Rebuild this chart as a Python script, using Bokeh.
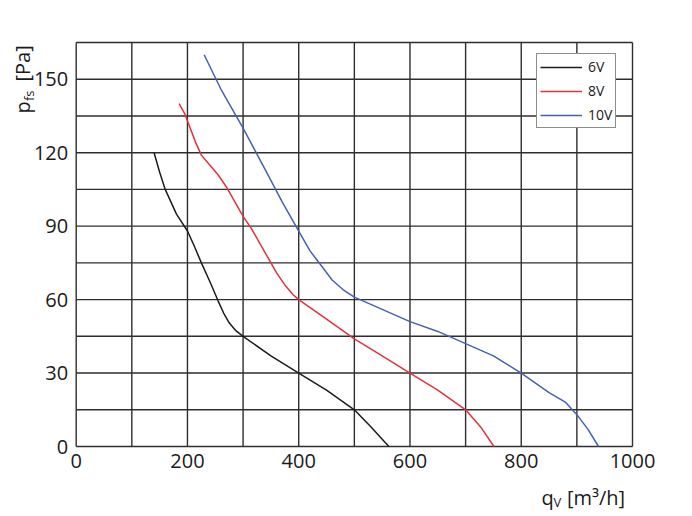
import math
from bokeh.plotting import figure
from bokeh.models import Range1d, FixedTicker, Label, Legend, LegendItem, LinearAxis
from bokeh.embed import file_html
from bokeh.resources import INLINE

FONT = "Open Sans"

# ---- data ----
q_6v = [140, 150, 160, 180, 200, 212, 225, 240, 255, 265, 275, 287, 300, 350, 400, 450, 500, 530, 562]
p_6v = [120, 112, 105, 95, 88, 82, 75, 67.5, 59.5, 54.5, 50.5, 47.3, 45, 37, 30, 23, 15, 8, 0]

q_8v = [185, 195, 205, 215, 225, 240, 255, 270, 285, 300, 315, 330, 345, 360, 375, 390, 400,
        450, 500, 550, 600, 650, 700, 727, 751]
p_8v = [140, 136, 130, 124, 119, 115, 111, 106, 100, 94, 89, 83, 77, 71, 66, 62, 60,
        52, 44, 37, 30, 23, 15, 8, 0]

q_10v = [230, 260, 300, 340, 370, 400, 420, 440, 460, 480, 500, 550, 600, 650, 700, 750, 800, 850, 880, 900, 920, 939]
p_10v = [160, 146, 130, 113, 100, 88, 80, 74, 68, 64, 61, 56, 51, 47, 42, 37, 30, 22, 18, 13, 7, 0]

series_names = ["6V", "8V", "10V"]
series_colors = ["#1c1c1c", "#e2323e", "#4562b0"]

x_ticks = [0, 200, 400, 600, 800, 1000]
y_ticks = [0, 30, 60, 90, 120, 150]
x_grid = list(range(0, 1001, 100))
y_grid = list(range(0, 166, 15))
X_MIN, X_MAX = 0, 1000
Y_MIN, Y_MAX = 0, 165

# ---- layout (pixels in the picture) ----
W, H = 676, 512
FL, FR, FT, FB = 75.7, 632.0, 42.0, 446.0   # plot box edges


def dx(px):
    return X_MIN + (px - FL) / (FR - FL) * (X_MAX - X_MIN)


def dy(py):
    return Y_MIN + (FB - py) / (FB - FT) * (Y_MAX - Y_MIN)


p = figure(width=W, height=H, output_backend="svg", toolbar_location=None,
           x_range=Range1d(dx(0), dx(W)), y_range=Range1d(dy(H), dy(0)),
           x_axis_location=None, y_axis_location=None,
           min_border=0, min_border_left=0, min_border_right=0,
           min_border_top=0, min_border_bottom=0)
p.outline_line_color = None
p.grid.visible = False

# grid / box
GRID_COLOR = "#2e2e2e"
p.segment(x0=x_grid, y0=[Y_MIN] * len(x_grid), x1=x_grid, y1=[Y_MAX] * len(x_grid),
          line_color=GRID_COLOR, line_width=1.4)
p.segment(x0=[X_MIN] * len(y_grid), y0=y_grid, x1=[X_MAX] * len(y_grid), y1=y_grid,
          line_color=GRID_COLOR, line_width=1.4)

# axes at the box edges
xax = LinearAxis(fixed_location=Y_MIN, ticker=FixedTicker(ticks=x_ticks))
yax = LinearAxis(fixed_location=X_MIN, ticker=FixedTicker(ticks=y_ticks))
for ax in (xax, yax):
    ax.axis_line_color = None
    ax.major_tick_line_color = None
    ax.minor_tick_line_color = None
    ax.major_label_text_font = FONT
    ax.major_label_text_font_size = "20px"
    ax.major_label_text_color = "#1a1a1a"
xax.major_label_standoff = 1
yax.major_label_standoff = 2
p.add_layout(xax, "below")
p.add_layout(yax, "left")

r6 = p.line(q_6v, p_6v, line_color=series_colors[0], line_width=1.5)
r8 = p.line(q_8v, p_8v, line_color=series_colors[1], line_width=1.5)
r10 = p.line(q_10v, p_10v, line_color=series_colors[2], line_width=1.5)

legend = Legend(items=[LegendItem(label=series_names[0], renderers=[r6]),
                       LegendItem(label=series_names[1], renderers=[r8]),
                       LegendItem(label=series_names[2], renderers=[r10])],
                location=(536, H - 128))
legend.border_line_color = "#1a1a1a"
legend.border_line_width = 1.2
legend.background_fill_color = "white"
legend.background_fill_alpha = 1.0
legend.padding = 3
legend.margin = 0
legend.spacing = 5
legend.glyph_width = 42
legend.glyph_height = 18
legend.label_height = 18
legend.label_standoff = 6
legend.label_text_font = FONT
legend.label_text_font_size = "14px"
legend.label_text_color = "#1a1a1a"
p.add_layout(legend)

# axis titles (with subscripts)
lab_kw = dict(text_font=FONT, text_color="#1a1a1a", text_baseline="alphabetic", text_align="left")
V = math.pi / 2
p.add_layout(Label(x=dx(21.5), y=dy(113), text="p", angle=V, text_font_size="20px", **lab_kw))
p.add_layout(Label(x=dx(28.5), y=dy(100.5), text="fs", angle=V, text_font_size="13px", **lab_kw))
p.add_layout(Label(x=dx(21.5), y=dy(81), text="[Pa]", angle=V, text_font_size="20px", **lab_kw))

p.add_layout(Label(x=dx(541), y=dy(497), text="q", text_font_size="20px", **lab_kw))
p.add_layout(Label(x=dx(553), y=dy(501), text="V", text_font_size="13px", **lab_kw))
p.add_layout(Label(x=dx(566.5), y=dy(497), text="[m³/h]", text_font_size="20px", **lab_kw))

open("out.html", "w").write(file_html(p, INLINE))
